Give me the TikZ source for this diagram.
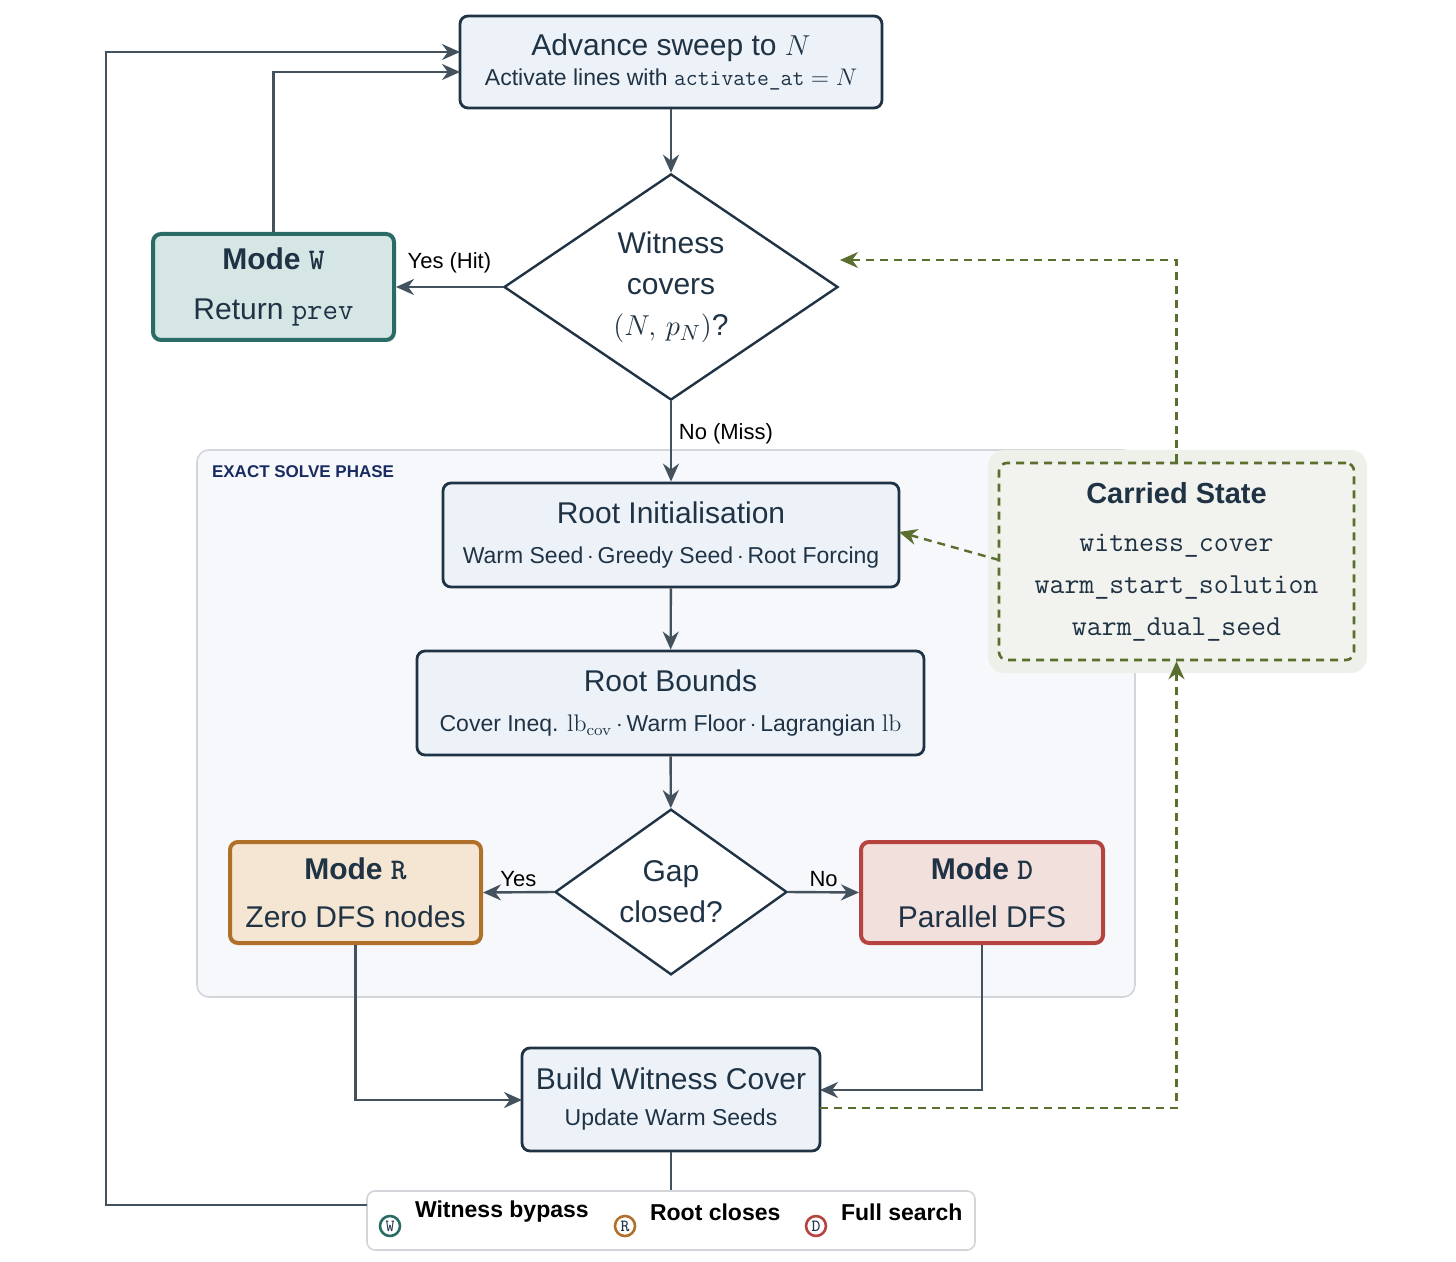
\documentclass[tikz,border=0pt]{standalone}
\usepackage[no-math]{fontspec}
\setmainfont{Liberation Sans}
\usetikzlibrary{shapes.geometric,arrows.meta}
\definecolor{ln}{HTML}{44525E}
\definecolor{bx}{HTML}{1F3345}
\definecolor{bxf}{HTML}{EDF2F9}
\definecolor{olv}{HTML}{5A6E2E}
\definecolor{teal}{HTML}{2A6B66}
\definecolor{tealf}{HTML}{D6E6E5}
\definecolor{orn}{HTML}{B07029}
\definecolor{ornf}{HTML}{F5E6D3}
\definecolor{red}{HTML}{B5433F}
\definecolor{redf}{HTML}{F2E0DD}
\newcommand\myttl{\fontsize{15}{18}\selectfont}
\newcommand\mysub{\fontsize{11.5}{14}\selectfont}
\tikzset{
 box/.style={draw=bx,fill=bxf,line width=1.4pt,rounded corners=4pt,align=center,inner sep=0pt,text=bx},
 mode/.style={line width=2pt,rounded corners=4pt,align=center,inner sep=0pt,minimum height=50.5pt,text=bx,font=\fontsize{15}{18}\selectfont},
 dia/.style={diamond,draw=bx,fill=white,line width=1.2pt,align=center,inner sep=0pt,text=bx,font=\fontsize{15}{20.5}\selectfont},
 arr/.style={draw=ln,line width=1.2pt,-{Stealth[length=9pt,width=8pt]}},
 ln/.style={draw=ln,line width=1.2pt},
 dsh/.style={draw=olv,line width=1.2pt,dash pattern=on 4pt off 3pt,-{Stealth[length=9pt,width=8pt]}},
 lab/.style={font=\fontsize{11}{13}\selectfont,text=black},
 lg/.style={circle,draw,line width=1.3pt,inner sep=1.1pt,font=\ttfamily\fontsize{8.5}{9}\selectfont,fill=white,text=bx},
 lgt/.style={font=\bfseries\fontsize{11.5}{14}\selectfont,anchor=west},
}
\begin{document}
\begin{tikzpicture}[x=0.5pt,y=-0.5pt]
\useasboundingbox (0,0) rectangle (1456,1262);
% phase region
\node[draw=bx!20,fill=bxf!50,rounded corners=6pt,line width=0.8pt,minimum width=469pt,minimum height=273.5pt,inner sep=0pt] (phase) at (666,723.5) {};
\node[anchor=north west,font=\bfseries\fontsize{8.5}{10}\selectfont,text=bx!85!blue] (phl) at (205,459) {EXACT SOLVE PHASE};
% carried state
\node[fill=olv!10,rounded corners=8pt,minimum width=189.5pt,minimum height=111.5pt,inner sep=0pt] (halo) at (1177.5,561.5) {};
\node[draw=olv,fill=olv!8,line width=1.3pt,dash pattern=on 4pt off 3pt,rounded corners=4pt,minimum width=177.5pt,minimum height=98.5pt,inner sep=0pt,align=center,text=bx,font=\ttfamily\fontsize{14.5}{21}\selectfont] (cs) at (1176.5,561.5)
 {{\rmfamily\bfseries Carried State}\\[3pt]
  witness\_cover\\ warm\_start\_solution\\ warm\_dual\_seed};
% nodes
\node[box,minimum width=211pt,minimum height=46pt] (adv) at (671,62)
 {\myttl Advance sweep to $N$\\[3pt]\mysub Activate lines with \texttt{activate\_at} $=N$};
\node[dia,minimum width=167pt,minimum height=103pt] (wit) at (671,287)
 {Witness\\ covers\\ $(N,\,p_N)$?};
\node[mode,draw=teal,fill=tealf,minimum width=120.5pt,minimum height=53pt] (mw) at (273.5,287)
 {\bfseries Mode \texttt{W}\\[7pt]\mdseries Return \texttt{prev}};
\node[box,minimum width=228pt,minimum height=52pt] (ri) at (671,535)
 {\myttl Root Initialisation\\[8pt]\mysub Warm Seed\,$\cdot$\,Greedy Seed\,$\cdot$\,Root Forcing};
\node[box,minimum width=253.5pt,minimum height=52pt] (rb) at (670.5,703)
 {\myttl Root Bounds\\[8pt]\mysub Cover Ineq. $\mathrm{lb}_{\mathrm{cov}}$\,$\cdot$\,Warm Floor\,$\cdot$\,Lagrangian $\mathrm{lb}$};
\node[dia,minimum width=116pt,minimum height=72pt] (gap) at (671,892)
 {Gap\\ closed?};
\node[mode,draw=orn,fill=ornf,minimum width=125.5pt] (mr) at (355.5,892.5)
 {\bfseries Mode \texttt{R}\\[6pt]\mdseries Zero DFS nodes};
\node[mode,draw=red,fill=redf,minimum width=121pt] (md) at (982,892.5)
 {\bfseries Mode \texttt{D}\\[6pt]\mdseries Parallel DFS};
\node[box,minimum width=149pt,minimum height=51.5pt] (bw) at (671,1099.5)
 {\myttl Build Witness Cover\\[6pt]\mysub Update Warm Seeds};
% legend
\node[draw=bx!20,fill=white,rounded corners=4pt,line width=0.8pt,minimum width=304pt,minimum height=29.5pt,inner sep=0pt] (leg) at (671,1220.5) {};
\node[lg,draw=teal] (lw) at (390,1226) {W};
\node[lgt] (tw) at (408,1212) {Witness bypass};
\node[lg,draw=orn] (lr) at (625,1226) {R};
\node[lgt] (tr) at (643,1212) {Root closes};
\node[lg,draw=red] (ld) at (816,1226) {D};
\node[lgt] (td) at (834,1212) {Full search};
% coordinates
\coordinate (a1) at (460,52);
\coordinate (a2) at (460,72);
\coordinate (c1) at (999,560);
\coordinate (c2) at (899,532);
\coordinate (b1) at (820,1108);
\coordinate (w1) at (840,260);
\coordinate (r1) at (522,1100);
\coordinate (d1) at (820,1090);
\coordinate (l1) at (367,1205);
% connectors
\draw[arr] (adv) -- (wit);
\draw[arr] (wit.west) -- (mw.east) node[lab,pos=0.5,above=3pt] {Yes (Hit)};
\draw[arr] (mw.north) |- (a2);
\draw[arr] (wit.south) -- (ri.north) node[lab,pos=0.4,right=0pt] {No (Miss)};
\draw[arr] (ri) -- (rb);
\draw[arr] (rb) -- (gap);
\draw[arr] (gap.west) -- (mr.east) node[lab,pos=0.5,above=-1pt] {Yes};
\draw[arr] (gap.east) -- (md.west) node[lab,pos=0.5,above=-1pt] {No};
\draw[arr] (mr.south) |- (r1);
\draw[arr] (md.south) |- (d1);
\draw[ln] (bw.south) -- (leg.north);
\draw[arr] (l1) -| (106,52) -- (a1);
\draw[dsh] (b1) -| (cs.south);
\draw[dsh] (cs.north) |- (w1);
\draw[dsh] (c1) -- (c2);
\end{tikzpicture}
\end{document}
